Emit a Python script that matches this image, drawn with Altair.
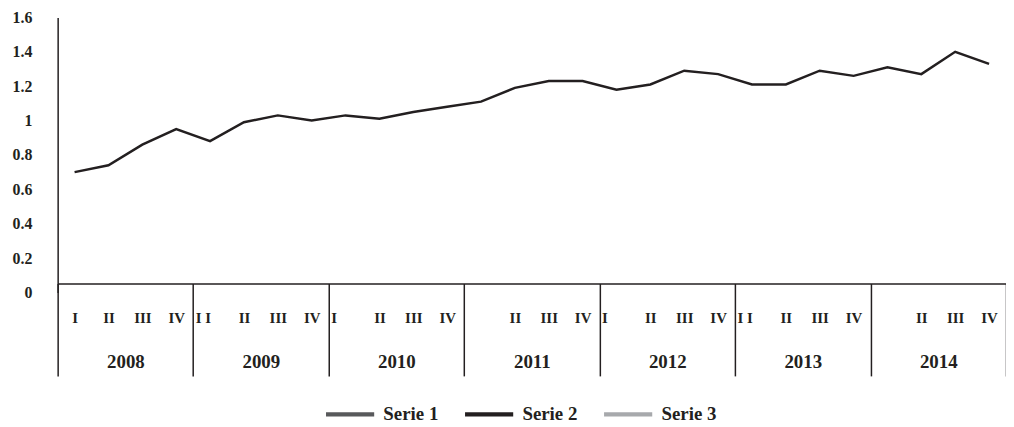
import altair as alt
import pandas as pd

# ---- data ----
years = ["2008", "2009", "2010", "2011", "2012", "2013", "2014"]
quarter_labels = [
    "I", "II", "III", "IV",
    "I I", "II", "III", "IV",
    "I", "II", "III", "IV",
    "", "II", "III", "IV",
    "I", "II", "III", "IV",
    "I I", "II", "III", "IV",
    "", "II", "III", "IV",
]
values = [
    0.70, 0.74, 0.86, 0.95,
    0.88, 0.99, 1.03, 1.00,
    1.03, 1.01, 1.05, 1.08,
    1.11, 1.19, 1.23, 1.23,
    1.18, 1.21, 1.29, 1.27,
    1.21, 1.21, 1.29, 1.26,
    1.31, 1.27, 1.40, 1.33,
]
series_names = ["Serie 1", "Serie 2", "Serie 3"]
series_colors = ["#58595b", "#231f20", "#a7a9ac"]
plotted_series = "Serie 2"
shifted_q1_years = ["2009", "2010", "2012", "2013"]
y_ticks = [0, 0.2, 0.4, 0.6, 0.8, 1.0, 1.2, 1.4, 1.6]

# ---- build table ----
quarter_years = [y for y in years for _ in range(4)]
keys = [f"{y}|{q}" for y, q in zip(quarter_years, quarter_labels)]
df = pd.DataFrame({"key": keys, "value": values, "series": plotted_series})
shifted_keys = [k for i, (k, y) in enumerate(zip(keys, quarter_years))
                if i % 4 == 0 and y in shifted_q1_years]
shift_test = "indexof([" + ",".join(f"'{k}'" for k in shifted_keys) + "], datum.value) >= 0"

FONT = "Liberation Serif"
INK = "#231f20"

line = alt.Chart(df).mark_line().encode(
    x=alt.X(
        "key:N", sort=None,
        scale=alt.Scale(type="point", domain=keys, padding=0.5),
        axis=alt.Axis(
            title=None, orient="bottom", offset=-9,
            domainColor=INK, domainWidth=1.5, ticks=False, grid=False,
            labelExpr="split(datum.value, '|')[1]", labelAngle=0,
            labelPadding=34, labelBaseline="middle", labelOverlap=False,
            labelFont=FONT, labelFontWeight="bold", labelFontSize=15, labelColor=INK,
            labelAlign={"condition": {"test": shift_test, "value": "left"}, "value": "center"},
            labelOffset={"condition": {"test": shift_test, "value": -15}, "value": 0},
        ),
    ),
    y=alt.Y(
        "value:Q",
        scale=alt.Scale(domain=[0, 1.6], nice=False, zero=True),
        axis=alt.Axis(
            title=None, values=y_ticks, format="~g", ticks=False, grid=False,
            domainColor=INK, domainWidth=1.5, labelPadding=26,
            labelFont=FONT, labelFontWeight="bold", labelFontSize=16, labelColor=INK,
        ),
    ),
    color=alt.Color(
        "series:N",
        scale=alt.Scale(domain=series_names, range=series_colors),
        legend=alt.Legend(
            orient="none", legendX=270, legendY=375, direction="horizontal", title=None,
            symbolType="M-1,-0.04L1,-0.04L1,0.04L-1,0.04Z", symbolSize=2116,
            symbolStrokeWidth=2.5,
            labelFont=FONT, labelFontWeight="bold", labelFontSize=19, labelColor=INK,
            labelOffset=9, columnPadding=22,
        ),
    ),
)

year_df = pd.DataFrame({"year": years})
year_layer = alt.Chart(year_df).mark_point(opacity=0).encode(
    x=alt.X(
        "year:N", sort=None,
        scale=alt.Scale(type="band", domain=years, paddingInner=0, paddingOuter=0),
        axis=alt.Axis(
            title=None, orient="bottom", offset=-9, domain=False, grid=False,
            tickBand="extent", tickSize=93, tickWidth=1.5, tickColor=INK,
            labelPadding=-14, labelBaseline="middle", labelAngle=0,
            labelFont=FONT, labelFontWeight="bold", labelFontSize=19, labelColor=INK,
        ),
    )
)

chart = (
    alt.layer(line, year_layer)
    .resolve_scale(x="independent")
    .properties(
        width=955, height=277,
        autosize=alt.AutoSizeParams(type="none"),
        padding={"left": 50, "top": 8, "right": 0, "bottom": 134},
    )
    .configure_view(stroke=None)
    .configure_line(strokeWidth=2.5)
)

chart.save("out.html", embed_options={"renderer": "svg", "actions": False})
